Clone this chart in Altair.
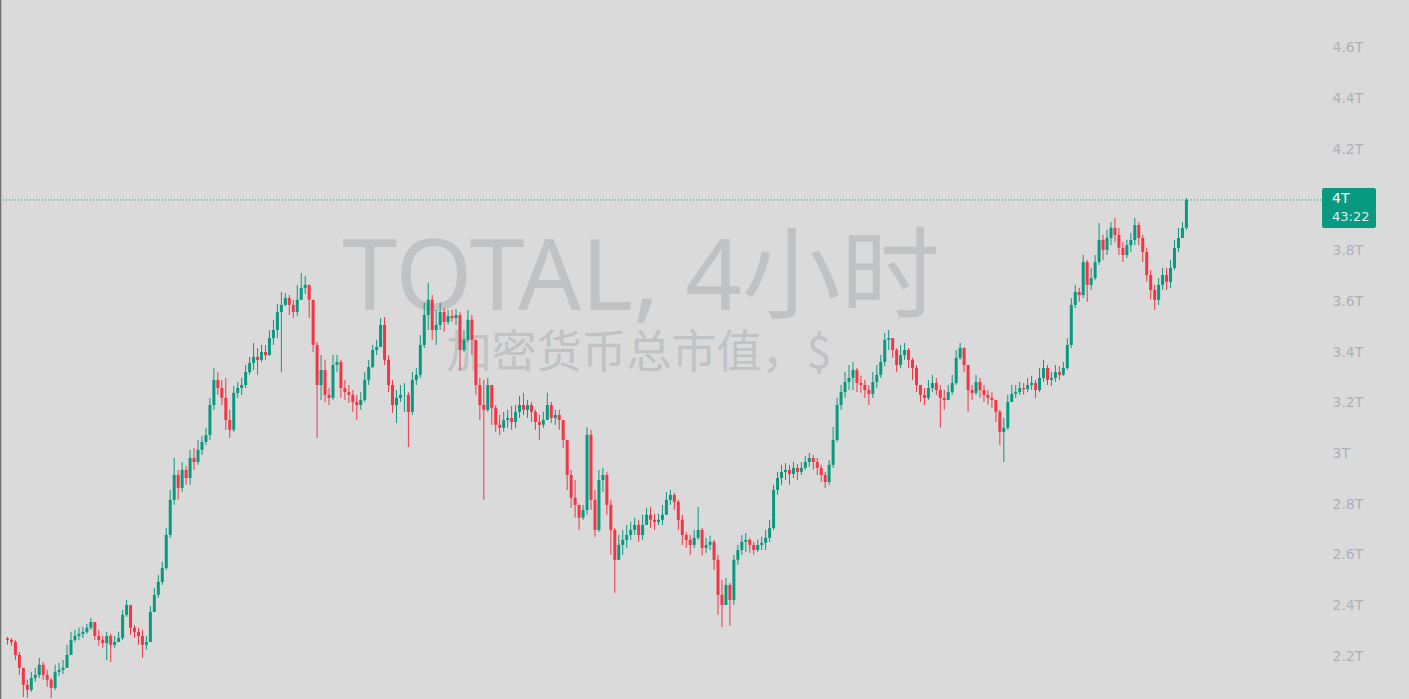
import altair as alt
import pandas as pd

# Total crypto market cap, 4h candles, values in billions of USD
first_open = 2270

close = [
    2264, 2256, 2205, 2154, 2087, 2067, 2114, 2126, 2166, 2126,
    2107, 2075, 2138, 2146, 2154, 2205, 2264, 2280, 2288, 2296,
    2312, 2335, 2280, 2264, 2252, 2280, 2245, 2256, 2272, 2363,
    2402, 2312, 2296, 2280, 2245, 2256, 2375, 2442, 2493, 2548,
    2678, 2817, 2915, 2864, 2935, 2903, 2982, 2966, 3014, 3045,
    3073, 3191, 3290, 3258, 3219, 3132, 3093, 3239, 3258, 3270,
    3321, 3357, 3381, 3369, 3400, 3388, 3455, 3487, 3558, 3586,
    3613, 3586, 3558, 3606, 3653, 3665, 3606, 3428, 3270, 3329,
    3231, 3219, 3349, 3361, 3258, 3242, 3231, 3203, 3191, 3211,
    3290, 3341, 3408, 3420, 3507, 3369, 3270, 3191, 3219, 3231,
    3231, 3164, 3290, 3310, 3428, 3546, 3606, 3487, 3507, 3558,
    3519, 3542, 3534, 3546, 3408, 3448, 3527, 3448, 3270, 3191,
    3172, 3270, 3180, 3113, 3101, 3132, 3140, 3124, 3164, 3191,
    3172, 3191, 3164, 3124, 3113, 3132, 3191, 3140, 3152, 3132,
    3053, 2915, 2825, 2797, 2746, 2777, 3073, 2817, 2698, 2895,
    2915, 2797, 2698, 2580, 2639, 2659, 2678, 2698, 2718, 2678,
    2718, 2758, 2738, 2730, 2738, 2758, 2817, 2836, 2809, 2738,
    2678, 2659, 2639, 2667, 2698, 2627, 2639, 2651, 2580, 2442,
    2402, 2481, 2422, 2580, 2619, 2651, 2659, 2639, 2619, 2639,
    2647, 2667, 2706, 2856, 2903, 2927, 2935, 2919, 2943, 2927,
    2943, 2966, 2982, 2966, 2943, 2915, 2887, 2955, 3053, 3191,
    3242, 3282, 3298, 3329, 3278, 3270, 3250, 3235, 3282, 3310,
    3361, 3448, 3455, 3408, 3349, 3388, 3408, 3369, 3337, 3270,
    3231, 3219, 3258, 3278, 3250, 3219, 3211, 3242, 3278, 3377,
    3416, 3349, 3250, 3239, 3282, 3250, 3231, 3219, 3211, 3164,
    3085, 3101, 3203, 3235, 3242, 3258, 3254, 3270, 3278, 3250,
    3298, 3337, 3290, 3298, 3321, 3310, 3337, 3428, 3586, 3637,
    3625, 3755, 3665, 3692, 3755, 3842, 3803, 3850, 3890, 3862,
    3811, 3783, 3822, 3842, 3901, 3850, 3795, 3704, 3645, 3606,
    3665, 3704, 3677, 3732, 3811, 3850, 3890, 4000,
]

high = [
    2276, 2272, 2264, 2217, 2146, 2107, 2138, 2154, 2193, 2177,
    2146, 2114, 2166, 2174, 2185, 2245, 2296, 2304, 2312, 2316,
    2327, 2351, 2335, 2304, 2280, 2296, 2288, 2280, 2296, 2383,
    2422, 2402, 2323, 2312, 2304, 2280, 2398, 2469, 2521, 2572,
    2706, 2856, 2982, 2935, 2966, 2951, 3014, 3021, 3053, 3069,
    3101, 3219, 3337, 3321, 3290, 3298, 3172, 3266, 3282, 3298,
    3349, 3381, 3436, 3416, 3428, 3428, 3487, 3527, 3590, 3637,
    3633, 3625, 3606, 3665, 3712, 3700, 3665, 3586, 3440, 3388,
    3369, 3258, 3388, 3388, 3369, 3290, 3270, 3250, 3231, 3242,
    3321, 3369, 3428, 3448, 3534, 3538, 3388, 3290, 3250, 3270,
    3278, 3242, 3321, 3337, 3467, 3594, 3673, 3625, 3566, 3594,
    3574, 3566, 3566, 3570, 3558, 3487, 3566, 3546, 3448, 3298,
    3290, 3298, 3219, 3191, 3152, 3164, 3172, 3187, 3191, 3227,
    3239, 3211, 3203, 3172, 3152, 3164, 3239, 3203, 3172, 3172,
    3132, 3053, 2935, 2895, 2797, 2797, 3104, 3093, 2856, 2935,
    2943, 2927, 2817, 2706, 2678, 2698, 2718, 2730, 2746, 2738,
    2758, 2785, 2789, 2762, 2762, 2797, 2848, 2856, 2844, 2817,
    2758, 2690, 2678, 2698, 2789, 2706, 2667, 2675, 2659, 2600,
    2501, 2509, 2489, 2600, 2639, 2678, 2686, 2667, 2651, 2659,
    2671, 2698, 2738, 2876, 2927, 2955, 2962, 2955, 2966, 2958,
    2966, 2990, 3002, 2994, 2982, 2955, 2927, 2974, 3104, 3219,
    3270, 3321, 3349, 3361, 3337, 3306, 3290, 3270, 3321, 3349,
    3388, 3475, 3487, 3448, 3416, 3428, 3436, 3416, 3377, 3349,
    3270, 3258, 3290, 3310, 3298, 3270, 3250, 3270, 3310, 3408,
    3436, 3420, 3349, 3270, 3310, 3298, 3270, 3250, 3242, 3211,
    3172, 3140, 3231, 3270, 3270, 3282, 3278, 3298, 3306, 3290,
    3337, 3369, 3349, 3321, 3349, 3345, 3361, 3455, 3613, 3665,
    3653, 3783, 3763, 3732, 3783, 3909, 3862, 3882, 3913, 3929,
    3890, 3834, 3842, 3870, 3929, 3913, 3862, 3811, 3724, 3665,
    3692, 3732, 3732, 3763, 3842, 3890, 3913, 4008,
]

low = [
    2245, 2241, 2185, 2126, 2039, 2035, 2059, 2099, 2114, 2107,
    2079, 2035, 2067, 2122, 2130, 2154, 2205, 2256, 2264, 2272,
    2288, 2304, 2264, 2241, 2233, 2185, 2177, 2233, 2256, 2264,
    2355, 2284, 2272, 2245, 2193, 2225, 2256, 2375, 2430, 2481,
    2540, 2667, 2797, 2817, 2848, 2876, 2876, 2935, 2955, 2994,
    3033, 3053, 3172, 3231, 3191, 3093, 3061, 3085, 3219, 3231,
    3258, 3310, 3329, 3310, 3361, 3369, 3385, 3428, 3455, 3321,
    3582, 3546, 3534, 3542, 3606, 3629, 3534, 3400, 3061, 3211,
    3203, 3191, 3211, 3321, 3219, 3211, 3199, 3164, 3132, 3172,
    3203, 3270, 3337, 3388, 3428, 3349, 3242, 3160, 3120, 3203,
    3164, 3025, 3152, 3270, 3298, 3416, 3487, 3448, 3428, 3487,
    3479, 3507, 3519, 3507, 3329, 3400, 3440, 3388, 3231, 3132,
    2817, 3164, 3112, 3085, 3073, 3085, 3101, 3093, 3101, 3140,
    3152, 3140, 3124, 3093, 3053, 3101, 3132, 3120, 3113, 3093,
    3021, 2856, 2785, 2746, 2698, 2738, 2758, 2777, 2671, 2690,
    2848, 2758, 2600, 2450, 2580, 2600, 2627, 2659, 2678, 2651,
    2659, 2718, 2706, 2698, 2718, 2718, 2769, 2797, 2777, 2698,
    2639, 2627, 2600, 2627, 2659, 2596, 2607, 2619, 2540, 2363,
    2315, 2402, 2320, 2402, 2560, 2600, 2611, 2607, 2600, 2611,
    2619, 2619, 2651, 2698, 2836, 2876, 2895, 2876, 2903, 2895,
    2915, 2935, 2947, 2935, 2915, 2887, 2864, 2876, 2943, 3045,
    3172, 3219, 3250, 3250, 3242, 3239, 3219, 3191, 3219, 3258,
    3298, 3345, 3408, 3377, 3321, 3337, 3369, 3337, 3290, 3242,
    3203, 3191, 3211, 3242, 3231, 3101, 3172, 3211, 3231, 3270,
    3369, 3321, 3164, 3211, 3231, 3219, 3203, 3191, 3180, 3124,
    3033, 2966, 3093, 3211, 3219, 3231, 3231, 3242, 3250, 3219,
    3242, 3282, 3270, 3266, 3282, 3290, 3306, 3329, 3416, 3574,
    3598, 3613, 3598, 3645, 3684, 3744, 3763, 3783, 3822, 3834,
    3783, 3755, 3771, 3795, 3822, 3822, 3755, 3677, 3606, 3566,
    3586, 3645, 3645, 3653, 3724, 3795, 3850, 3882,
]

price_ticks = [2200, 2400, 2600, 2800, 3000, 3200, 3400, 3600, 3800,
               4200, 4400, 4600, 4800]
last_price_label = "4T"
bar_countdown = "43:22"
watermark_main = "TOTAL, 4小时"
watermark_sub = "加密货币总市值，$"

UP = "#089981"
DOWN = "#f23645"
BG = "#dadada"

# each candle opens where the previous one closed
opens = [first_open] + close[:-1]
rows = []
for i, (o, h, l, c) in enumerate(zip(opens, high, low, close)):
    rows.append({"i": i, "open": o, "close": c,
                 "high": max(h, o, c), "low": min(l, o, c)})
candles = pd.DataFrame(rows)

W, H = 1310, 699
x_scale = alt.Scale(domain=[-0.625, 326.875], nice=False, zero=False)
y_scale = alt.Scale(domain=[2031, 4789], nice=False, zero=False)

# one shared price scale on the right; every layer carries the same axis
price_axis = alt.Axis(
    orient="right", values=price_ticks,
    labelExpr="(datum.value / 1000) + 'T'",
    domain=False, ticks=False, grid=False, title=None,
    labelPadding=22, labelAlign="left", labelBaseline="middle",
    labelColor="#aeb1b8", labelFont="DejaVu Sans", labelFontSize=14,
    labelOverlap=False, labelBound=False,
)


def price_y(field):
    return alt.Y(field, scale=y_scale, axis=price_axis)


candle_color = alt.condition("datum.close >= datum.open",
                             alt.value(UP), alt.value(DOWN))

base = alt.Chart(candles)

wicks = base.mark_rule(strokeWidth=1).encode(
    x=alt.X("i:Q", scale=x_scale, axis=None),
    y=price_y("low:Q"),
    y2="high:Q",
    color=candle_color,
)

bodies = base.mark_bar(size=3, orient="vertical").encode(
    x=alt.X("i:Q", scale=x_scale, axis=None),
    y=price_y("open:Q"),
    y2="close:Q",
    color=candle_color,
)

wm_main = alt.Chart(pd.DataFrame({"t": [watermark_main]})).mark_text(
    font="Noto Sans, Noto Sans CJK SC, sans-serif", fontSize=99,
    color="#c1c2c4", align="center", baseline="alphabetic",
).encode(x=alt.value(641), y=alt.value(310), text="t:N")

wm_sub = alt.Chart(pd.DataFrame({"t": [watermark_sub]})).mark_text(
    font="Noto Sans CJK SC, sans-serif", fontSize=45, color="#c1c2c4",
    align="center", baseline="alphabetic",
).encode(x=alt.value(639), y=alt.value(368), text="t:N")

last = pd.DataFrame({"v": [close[-1]], "label": [last_price_label],
                     "timer": [bar_countdown]})
last_base = alt.Chart(last)

price_line = last_base.mark_rule(color=UP, strokeWidth=1, strokeDash=[1, 2]).encode(
    y=price_y("v:Q"),
    x=alt.value(0), x2=alt.value(1322),
)

price_box = last_base.mark_rect(color=UP, cornerRadius=2,
                                yOffset=-12, y2Offset=28).encode(
    y=price_y("v:Q"), y2="v:Q",
    x=alt.value(1322), x2=alt.value(1376),
)

price_text = last_base.mark_text(
    align="left", baseline="middle", dy=-1,
    font="DejaVu Sans", fontSize=14, color="#ffffff",
).encode(y=price_y("v:Q"), x=alt.value(1332), text="label:N")

timer_text = last_base.mark_text(
    align="left", baseline="middle", dy=17,
    font="DejaVu Sans", fontSize=13, color="#dff1ec",
).encode(y=price_y("v:Q"), x=alt.value(1332), text="timer:N")

left_edge = alt.Chart(pd.DataFrame({"k": [0]})).mark_rule(
    color="#6e6e6e", strokeWidth=1.5
).encode(x=alt.value(0.5), y=alt.value(0), y2=alt.value(H))

chart = alt.layer(
    wm_main, wm_sub, wicks, bodies, price_line, price_box,
    price_text, timer_text, left_edge,
).properties(
    width=W, height=H,
    autosize=alt.AutoSizeParams(type="none"),
    padding={"left": 0, "top": 0, "right": 99, "bottom": 0},
    background=BG,
).configure_view(stroke=None)

chart.save("out.html", embed_options={"renderer": "svg", "actions": False})
